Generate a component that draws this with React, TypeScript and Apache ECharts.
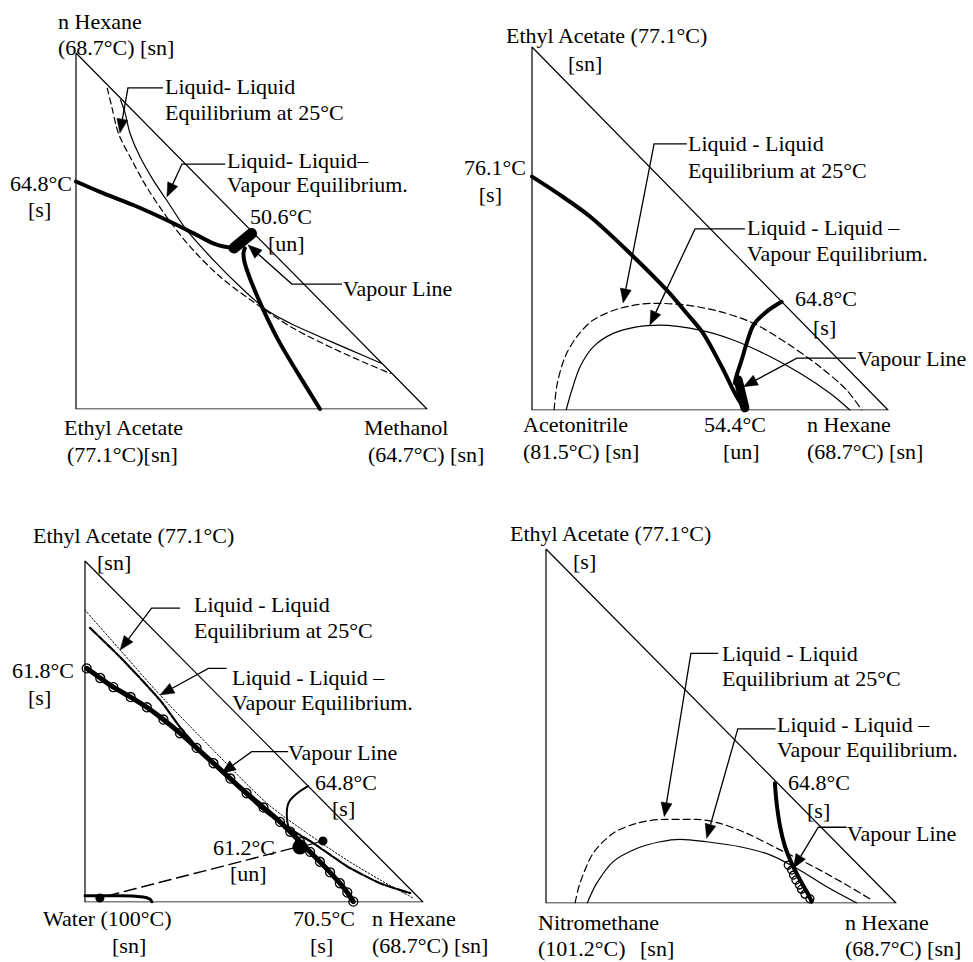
import React, { useEffect, useRef } from "react";
import * as echarts from "echarts";

type P = [number, number];

// ---------- shared ----------
const TRIANGLE: P[] = [[0, 0], [1, 0], [0, 1], [0, 0]];

// ---------- Panel 1 : n Hexane / Ethyl Acetate / Methanol ----------
const p1LLE: P[] = [
  [0.089, 0.901], [0.102, 0.849], [0.121, 0.774], [0.159, 0.699], [0.201, 0.624],
  [0.258, 0.54], [0.325, 0.456], [0.41, 0.372], [0.505, 0.301], [0.619, 0.227],
  [0.733, 0.17], [0.828, 0.128], [0.895, 0.1],
];
const p1LLVE: P[] = [
  [0.127, 0.868], [0.14, 0.831], [0.154, 0.774], [0.182, 0.709], [0.22, 0.643],
  [0.258, 0.587], [0.315, 0.503], [0.391, 0.419], [0.467, 0.344], [0.543, 0.278],
  [0.61, 0.241], [0.695, 0.203], [0.781, 0.166], [0.871, 0.128],
];
const p1Residue1: P[] = [
  [0, 0.639], [0.068, 0.61], [0.163, 0.573], [0.258, 0.531], [0.334, 0.494],
  [0.391, 0.465], [0.439, 0.454], [0.467, 0.454],
];
const p1Residue2: P[] = [
  [0.695, 0], [0.638, 0.091], [0.581, 0.185], [0.534, 0.278], [0.501, 0.353],
  [0.481, 0.409], [0.477, 0.437], [0.481, 0.451],
];
const p1Azeo: P[] = [[0.45, 0.452], [0.5, 0.493]];
// arrows: [x0,y0, x1,y1, tipX,tipY]
const p1Arrows: number[][] = [
  [0.248, 0.902, 0.148, 0.902, 0.125, 0.775],
  [0.425, 0.688, 0.302, 0.688, 0.259, 0.596],
  [0.758, 0.351, 0.615, 0.351, 0.49, 0.461],
];

// ---------- Panel 2 : Ethyl Acetate / Acetonitrile / n Hexane ----------
const p2Residue1: P[] = [
  [0, 0.643], [0.069, 0.599], [0.163, 0.533], [0.275, 0.432], [0.378, 0.331],
  [0.435, 0.266], [0.481, 0.211], [0.533, 0.119], [0.57, 0.046], [0.598, 0],
];
const p2Residue2: P[] = [
  [0.701, 0.298], [0.659, 0.271], [0.622, 0.234], [0.603, 0.184], [0.589, 0.138],
  [0.575, 0.096], [0.57, 0.074],
];
const p2Azeo: P[] = [[0.579, 0.083], [0.598, 0.006]];
const p2LLE: P[] = [
  [0.062, 0], [0.071, 0.073], [0.093, 0.147], [0.126, 0.202], [0.172, 0.248],
  [0.247, 0.28], [0.341, 0.294], [0.435, 0.289], [0.528, 0.271], [0.622, 0.239],
  [0.716, 0.184], [0.809, 0.119], [0.884, 0.055], [0.926, 0],
];
const p2LLVE: P[] = [
  [0.096, 0], [0.112, 0.055], [0.135, 0.119], [0.172, 0.174], [0.228, 0.211],
  [0.294, 0.229], [0.36, 0.234], [0.472, 0.22], [0.565, 0.193], [0.659, 0.152],
  [0.753, 0.101], [0.837, 0.046], [0.893, 0],
];
const p2Arrows: number[][] = [
  [0.435, 0.733, 0.343, 0.733, 0.256, 0.295],
  [0.598, 0.499, 0.458, 0.499, 0.331, 0.234],
  [0.91, 0.143, 0.744, 0.143, 0.594, 0.064],
];

// ---------- Panel 3 : Ethyl Acetate / Water / n Hexane ----------
const p3LLE: P[] = [
  [0, 0.856], [0.104, 0.739], [0.222, 0.607], [0.379, 0.446], [0.538, 0.29],
  [0.657, 0.202], [0.775, 0.123], [0.873, 0.065], [0.97, 0.012],
];
const p3LLVE: P[] = [
  [0.015, 0.804], [0.112, 0.71], [0.222, 0.592], [0.281, 0.513], [0.331, 0.455],
  [0.429, 0.358], [0.538, 0.261], [0.627, 0.202], [0.675, 0.173], [0.775, 0.105],
  [0.873, 0.055], [0.962, 0.026],
];
const p3Residue: P[] = [
  [0.005, 0.685], [0.045, 0.657], [0.084, 0.63], [0.135, 0.601], [0.183, 0.571],
  [0.232, 0.535], [0.281, 0.495], [0.33, 0.452], [0.38, 0.407], [0.43, 0.362],
  [0.478, 0.319], [0.528, 0.277], [0.577, 0.235], [0.607, 0.206], [0.636, 0.177],
  [0.666, 0.147], [0.695, 0.118], [0.725, 0.087], [0.754, 0.055], [0.776, 0.028],
  [0.794, 0.001],
];
const p3Residue2: P[] = [
  [0.66, 0.34], [0.607, 0.299], [0.597, 0.26], [0.602, 0.221], [0.626, 0.196],
];
const p3TieLine: P[] = [[0.636, 0.161], [0.704, 0.179]];
const p3WaterLine: P[] = [[0.615, 0.158], [0.044, 0.012]];
const p3WaterEdge: P[] = [[0, 0.018], [0.104, 0.018], [0.172, 0.015], [0.192, 0.009], [0.198, 0]];
const p3Azeo: P[] = [[0.636, 0.161]];
const p3Points: P[] = [[0.704, 0.179], [0.044, 0.012]];
const p3Arrows: number[][] = [
  [0.281, 0.862, 0.197, 0.862, 0.104, 0.739],
  [0.419, 0.685, 0.365, 0.685, 0.222, 0.607],
  [0.601, 0.441, 0.493, 0.441, 0.404, 0.377],
];

// ---------- Panel 4 : Ethyl Acetate / Nitromethane / n Hexane ----------
const p4LLE: P[] = [
  [0.083, 0], [0.097, 0.056], [0.135, 0.141], [0.192, 0.197], [0.259, 0.225],
  [0.335, 0.236], [0.431, 0.236], [0.497, 0.225], [0.573, 0.197], [0.669, 0.15],
  [0.764, 0.103], [0.859, 0.051], [0.931, 0.008],
];
const p4LLVE: P[] = [
  [0.118, 0], [0.145, 0.056], [0.192, 0.117], [0.259, 0.154], [0.326, 0.173],
  [0.383, 0.18], [0.459, 0.173], [0.554, 0.159], [0.64, 0.136], [0.716, 0.098],
  [0.802, 0.046], [0.888, 0],
];
const p4Residue: P[] = [
  [0.654, 0.338], [0.659, 0.281], [0.669, 0.215], [0.683, 0.159], [0.702, 0.112],
  [0.726, 0.065], [0.75, 0.023], [0.759, 0.004],
];
const p4Vapour: P[] = [
  [0.692, 0.107], [0.702, 0.093], [0.707, 0.079], [0.714, 0.065], [0.724, 0.051],
  [0.73, 0.039], [0.74, 0.025], [0.754, 0.012],
];
const p4Arrows: number[][] = [
  [0.492, 0.705, 0.414, 0.705, 0.338, 0.244],
  [0.656, 0.492, 0.548, 0.492, 0.459, 0.183],
  [0.859, 0.214, 0.778, 0.214, 0.707, 0.098],
];

// ---------- text labels ----------
const LABELS: [string, number, number, string?][] = [
  ["n Hexane", 58, 21], ["(68.7°C) [sn]", 58, 47],
  ["Liquid- Liquid", 165, 86], ["Equilibrium at 25°C", 165, 112],
  ["Liquid- Liquid–", 227, 160], ["Vapour Equilibrium.", 227, 184],
  ["64.8°C", 10, 183], ["[s]", 28, 209],
  ["50.6°C", 250, 216], ["[un]", 268, 243],
  ["Vapour Line", 343, 288],
  ["Ethyl Acetate", 64, 427], ["(77.1°C)[sn]", 67, 454],
  ["Methanol", 364, 427], ["(64.7°C) [sn]", 368, 454],

  ["Ethyl Acetate (77.1°C)", 506, 35], ["[sn]", 568, 63],
  ["76.1°C", 526, 167, "right"], ["[s]", 502, 194, "right"],
  ["Liquid - Liquid", 688, 143], ["Equilibrium at 25°C", 688, 170],
  ["Liquid - Liquid –", 747, 227], ["Vapour Equilibrium.", 747, 253],
  ["64.8°C", 795, 298], ["[s]", 813, 327],
  ["Vapour Line", 857, 358],
  ["Acetonitrile", 523, 424], ["(81.5°C) [sn]", 523, 451],
  ["54.4°C", 704, 424], ["[un]", 723, 451],
  ["n Hexane", 807, 424], ["(68.7°C) [sn]", 807, 451],

  ["Ethyl Acetate (77.1°C)", 33, 535], ["[sn]", 97, 562],
  ["61.8°C", 12, 670], ["[s]", 28, 697],
  ["Liquid - Liquid", 194, 604], ["Equilibrium at 25°C", 194, 630],
  ["Liquid - Liquid –", 232, 677], ["Vapour Equilibrium.", 232, 702],
  ["Vapour Line", 288, 752],
  ["64.8°C", 315, 782], ["[s]", 332, 808],
  ["61.2°C", 213, 847], ["[un]", 230, 873],
  ["Water (100°C)", 43, 918], ["[sn]", 112, 945],
  ["70.5°C", 293, 918], ["[s]", 310, 945],
  ["n Hexane", 372, 918], ["(68.7°C) [sn]", 372, 945],

  ["Ethyl Acetate (77.1°C)", 510, 533], ["[s]", 573, 561],
  ["Liquid - Liquid", 722, 653], ["Equilibrium at 25°C", 722, 678],
  ["Liquid - Liquid –", 777, 724], ["Vapour Equilibrium.", 777, 749],
  ["64.8°C", 788, 782], ["[s]", 807, 810],
  ["Vapour Line", 847, 833],
  ["Nitromethane", 538, 922], ["(101.2°C)", 538, 948], ["[sn]", 640, 948],
  ["n Hexane", 845, 922], ["(68.7°C) [sn]", 845, 948],
];

// ---------- layout ----------
const GRIDS = [
  { left: 76, top: 53, width: 351, height: 356 },
  { left: 532, top: 47, width: 356, height: 363 },
  { left: 85, top: 561, width: 338, height: 341 },
  { left: 546, top: 549, width: 350, height: 354 },
];

function line(gi: number, data: P[], width = 1, type: any = "solid", smooth: number | boolean = 0.3, extra: any = {}) {
  return {
    type: "line",
    xAxisIndex: gi,
    yAxisIndex: gi,
    data,
    symbol: "none",
    showSymbol: false,
    smooth,
    silent: true,
    lineStyle: { color: "#000", width, type, cap: extra.cap || "round", join: "round" },
    z: extra.z ?? 2,
  };
}

function dots(gi: number, data: P[], size: number, empty = false, z = 6) {
  return {
    type: "scatter",
    xAxisIndex: gi,
    yAxisIndex: gi,
    data,
    symbol: "circle",
    symbolSize: size,
    silent: true,
    itemStyle: empty
      ? { color: "rgba(255,255,255,0)", borderColor: "#000", borderWidth: 1.3, opacity: 1 }
      : { color: "#000", opacity: 1 },
    z,
  };
}

function arrows(gi: number, data: number[][]) {
  return {
    type: "custom",
    xAxisIndex: gi,
    yAxisIndex: gi,
    data,
    encode: { x: [0, 2, 4], y: [1, 3, 5] },
    silent: true,
    z: 8,
    renderItem: (_params: any, api: any) => {
      const a = api.coord([api.value(0), api.value(1)]);
      const b = api.coord([api.value(2), api.value(3)]);
      const c = api.coord([api.value(4), api.value(5)]);
      const dx = c[0] - b[0];
      const dy = c[1] - b[1];
      const len = Math.hypot(dx, dy) || 1;
      const ux = dx / len;
      const uy = dy / len;
      const L = 14;
      const hw = 5.5;
      const base = [c[0] - ux * L, c[1] - uy * L];
      const l = [base[0] - uy * hw, base[1] + ux * hw];
      const r = [base[0] + uy * hw, base[1] - ux * hw];
      return {
        type: "group",
        children: [
          { type: "polyline", shape: { points: [a, b, base] }, style: { stroke: "#000", lineWidth: 1.3, fill: null } },
          { type: "polygon", shape: { points: [c, l, r] }, style: { fill: "#000", stroke: "#000", lineWidth: 0.5 } },
        ],
      };
    },
  };
}

export default function App() {
  const ref = useRef<HTMLDivElement>(null);
  useEffect(() => {
    if (!ref.current) return;
    const chart = echarts.init(ref.current, null, { renderer: "svg" });
    const series: any[] = [];
    for (let i = 0; i < 4; i++) series.push(line(i, TRIANGLE, 1.2, "solid", false));

    // panel 1
    series.push(line(0, p1LLE, 1.2, [6, 4]));
    series.push(line(0, p1LLVE, 1.2));
    series.push(line(0, p1Residue1, 4));
    series.push(line(0, p1Residue2, 4));
    series.push(line(0, p1Azeo, 11, "solid", false));
    series.push(arrows(0, p1Arrows));

    // panel 2
    series.push(line(1, p2LLE, 1.2, [7, 4]));
    series.push(line(1, p2LLVE, 1.2));
    series.push(line(1, p2Residue1, 4));
    series.push(line(1, p2Residue2, 4));
    series.push(line(1, p2Azeo, 9, "solid", false));
    series.push(arrows(1, p2Arrows));

    // panel 3
    series.push(line(2, p3LLE, 1, [1.5, 2], 0.3));
    series.push(line(2, p3LLVE, 2.2, [10, 2], 0.2));
    series.push(line(2, p3Residue, 5, "solid", 0.3, { z: 3 }));
    series.push(dots(2, p3Residue, 9, true, 5));
    series.push(line(2, p3Residue2, 2, "solid", 0.4));
    series.push(line(2, p3TieLine, 1.2, "solid", false));
    series.push(line(2, p3WaterLine, 1.5, [12, 6], false));
    series.push(line(2, p3WaterEdge, 3, "solid", 0.3));
    series.push(dots(2, p3Azeo, 15));
    series.push(dots(2, p3Points, 9));
    series.push(arrows(2, p3Arrows));

    // panel 4
    series.push(line(3, p4LLE, 1.2, [7, 4]));
    series.push(line(3, p4LLVE, 1.2));
    series.push(line(3, p4Residue, 4));
    series.push(dots(3, p4Vapour, 8, true, 5));
    series.push(arrows(3, p4Arrows));

    const graphic = LABELS.map(([text, x, y, align]) => ({
      type: "text",
      x,
      y,
      silent: true,
      style: {
        text,
        fontFamily: "Liberation Serif",
        fontSize: 22,
        fill: "#000",
        textAlign: align || "left",
        textVerticalAlign: "middle",
      },
    }));

    chart.setOption({
      animation: false,
      backgroundColor: "#fff",
      grid: GRIDS.map((g) => ({ ...g, containLabel: false, show: false })),
      xAxis: GRIDS.map((_, i) => ({ type: "value", gridIndex: i, min: 0, max: 1, show: false })),
      yAxis: GRIDS.map((_, i) => ({ type: "value", gridIndex: i, min: 0, max: 1, show: false })),
      series,
      graphic,
    });
    return () => chart.dispose();
  }, []);
  return <div ref={ref} style={{ position: "absolute", left: 0, top: 0, width: 973, height: 962 }} />;
}
